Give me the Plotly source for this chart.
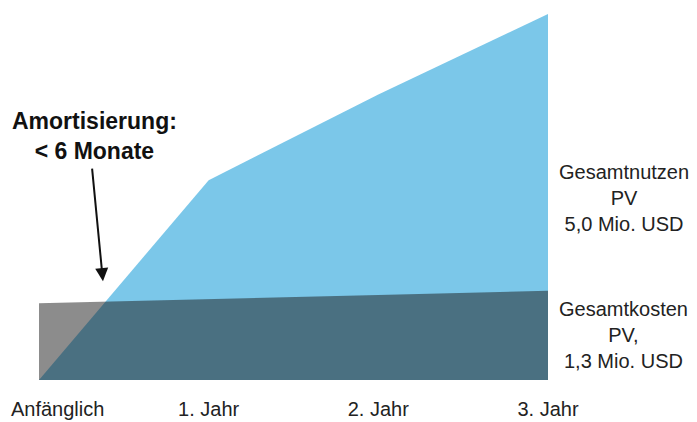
import plotly.graph_objects as go

# Data (Mio. USD, cumulative)
periods = ["Anfänglich", "1. Jahr", "2. Jahr", "3. Jahr"]
period_pos = [0, 1, 2, 3]
benefit = [0.0, 2.73, 3.9, 5.0]
cost = [1.05, 1.1, 1.16, 1.22]

benefit_label = "Gesamtnutzen<br>PV<br>5,0 Mio. USD"
cost_label = "Gesamtkosten<br>PV,<br>1,3 Mio. USD"
payback_label = "<b>Amortisierung:<br>&lt; 6 Monate</b>"

BLUE = "#7bc7e9"
OVER = "rgba(25,25,25,0.5)"
FONT = "Liberation Sans, Arial, sans-serif"

fig = go.Figure()
fig.add_trace(go.Scatter(x=period_pos, y=benefit, mode="lines", fill="tozeroy",
                         fillcolor=BLUE, line=dict(width=0, color=BLUE),
                         hoverinfo="skip", showlegend=False))
fig.add_trace(go.Scatter(x=period_pos, y=cost, mode="lines", fill="tozeroy",
                         fillcolor=OVER, line=dict(width=0, color=OVER),
                         hoverinfo="skip", showlegend=False))

annotations = [
    dict(xref="paper", yref="paper", x=1.149, y=0.496, text=benefit_label,
         showarrow=False, font=dict(size=20, color="#222", family=FONT),
         xanchor="center", yanchor="middle", align="center"),
    dict(xref="paper", yref="paper", x=1.149, y=0.124, text=cost_label,
         showarrow=False, font=dict(size=20, color="#222", family=FONT),
         xanchor="center", yanchor="middle", align="center"),
    dict(xref="paper", yref="paper", x=0.110, y=0.667, text=payback_label,
         showarrow=False, font=dict(size=23, color="#111", family=FONT),
         xanchor="center", yanchor="middle", align="center"),
    # arrow pointing to payback point
    dict(x=0.377, y=1.35, xref="x", yref="y", text="", showarrow=True,
         ax=-11, ay=-114, axref="pixel", ayref="pixel",
         arrowhead=2, arrowsize=1.3, arrowwidth=2, arrowcolor="#111"),
]

fig.update_layout(
    width=697, height=422,
    margin=dict(l=39, r=149, t=14, b=42, autoexpand=False),
    paper_bgcolor="white", plot_bgcolor="white",
    font=dict(family=FONT, size=20, color="#222"),
    xaxis=dict(range=[0, 3], tickmode="array",
               tickvals=[0.11, 1, 2, 3], ticktext=periods,
               showgrid=False, zeroline=False, showline=False, ticks="",
               ticklabelstandoff=15, automargin=False,
               tickfont=dict(size=20, color="#222", family=FONT)),
    yaxis=dict(range=[0, 5.0], visible=False, showgrid=False, zeroline=False,
               automargin=False),
    annotations=annotations,
)

fig.write_html("out.html")
